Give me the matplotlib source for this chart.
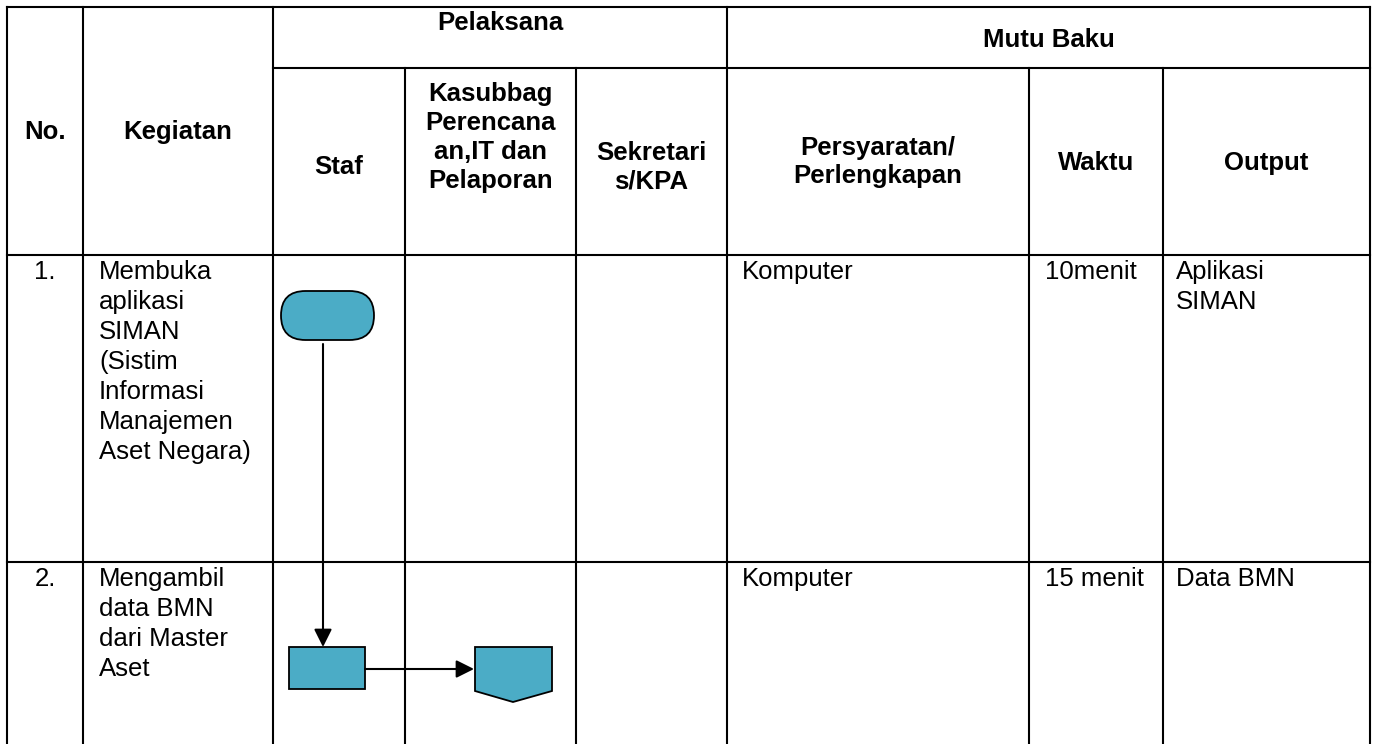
import matplotlib
matplotlib.use('Agg')
import matplotlib.pyplot as plt
from matplotlib.patches import FancyBboxPatch, Rectangle, Polygon

plt.rcParams['font.family'] = ['Liberation Sans', 'DejaVu Sans']

W, H = 1376, 744
FS = 18.5
FILL = '#4BACC6'
LW_GRID = 1.5

# table text
group_headers = ['Pelaksana', 'Mutu Baku']
main_headers = [['No.'], ['Kegiatan']]
sub_headers = [['Staf'],
               ['Kasubbag', 'Perencana', 'an,IT dan', 'Pelaporan'],
               ['Sekretari', 's/KPA'],
               ['Persyaratan/', 'Perlengkapan'],
               ['Waktu'],
               ['Output']]

step_no = ['1.', '2.']
kegiatan = [['Membuka', 'aplikasi', 'SIMAN', '(Sistim', 'Informasi', 'Manajemen', 'Aset Negara)'],
            ['Mengambil', 'data BMN', 'dari Master', 'Aset']]
persyaratan = ['Komputer', 'Komputer']
waktu = ['10menit', '15 menit']
output = [['Aplikasi', 'SIMAN'], ['Data BMN']]

# grid layout in pixels
col_x = [7, 83, 273, 405, 576, 727, 1029, 1163, 1370]
top_y, sub_y, head_y = 7, 68, 255
row_top = [255, 562]
sub_center = [167, 137.5, 167, 162, 163, 163]

fig = plt.figure(figsize=(W / 100, H / 100), dpi=100)
ax = fig.add_axes([0, 0, 1, 1])
ax.set_xlim(0, W)
ax.set_ylim(H, 0)
ax.axis('off')


def hline(y, x0, x1):
    ax.plot([x0, x1], [y, y], color='black', lw=LW_GRID, solid_capstyle='projecting')


def vline(x, y0, y1):
    ax.plot([x, x], [y0, y1], color='black', lw=LW_GRID, solid_capstyle='projecting')


def lines_text(x, y_first, lines, step, ha='left', bold=False):
    for i, s in enumerate(lines):
        ax.text(x, y_first + i * step, s, ha=ha, va='center', fontsize=FS,
                fontweight='bold' if bold else 'normal', color='black')


def centered_block(x, yc, lines, step=29, bold=True):
    y0 = yc - step * (len(lines) - 1) / 2
    lines_text(x, y0, lines, step, ha='center', bold=bold)


# grid
hline(top_y, col_x[0], col_x[-1])
hline(sub_y, col_x[2], col_x[-1])
hline(head_y, col_x[0], col_x[-1])
for y in row_top[1:]:
    hline(y, col_x[0], col_x[-1])
for i, x in enumerate(col_x):
    y0 = sub_y if i in (3, 4, 6, 7) else top_y
    vline(x, y0, H + 5)

# headers
ax.text((col_x[2] + col_x[5]) / 2, 23, group_headers[0], ha='center', va='center',
        fontsize=FS, fontweight='bold')
ax.text((col_x[5] + col_x[8]) / 2, 40, group_headers[1], ha='center', va='center',
        fontsize=FS, fontweight='bold')
for i, lab in enumerate(main_headers):
    centered_block((col_x[i] + col_x[i + 1]) / 2, 132, lab)
for i, lab in enumerate(sub_headers):
    centered_block((col_x[i + 2] + col_x[i + 3]) / 2, sub_center[i], lab)

# body rows
for r, top in enumerate(row_top):
    y1 = top + 17
    ax.text((col_x[0] + col_x[1]) / 2, y1, step_no[r], ha='center', va='center', fontsize=FS)
    lines_text(col_x[1] + 16, y1, kegiatan[r], 30)
    lines_text(col_x[5] + 15, y1, [persyaratan[r]], 30)
    lines_text(col_x[6] + 16, y1, [waktu[r]], 30)
    lines_text(col_x[7] + 13, y1, output[r], 30)

# flowchart symbols
start = FancyBboxPatch((281, 291), 93, 49, boxstyle='round,pad=0,rounding_size=24.5',
                       facecolor=FILL, edgecolor='black', lw=1.3)
ax.add_patch(start)

proc = Rectangle((289, 647), 76, 42, facecolor=FILL, edgecolor='black', lw=1.3)
ax.add_patch(proc)

conn = Polygon([(475, 647), (552, 647), (552, 691), (513, 702), (475, 691)], closed=True,
               facecolor=FILL, edgecolor='black', lw=1.3)
ax.add_patch(conn)

arrow = dict(arrowstyle='-|>,head_length=10.8,head_width=5.4', color='black', lw=1.5,
             shrinkA=0, shrinkB=0, mutation_scale=1)
ax.annotate('', xy=(323, 647), xytext=(323, 344), arrowprops=arrow)
ax.annotate('', xy=(474, 669), xytext=(365, 669), arrowprops=arrow)

fig.savefig('out.png', dpi=100)
